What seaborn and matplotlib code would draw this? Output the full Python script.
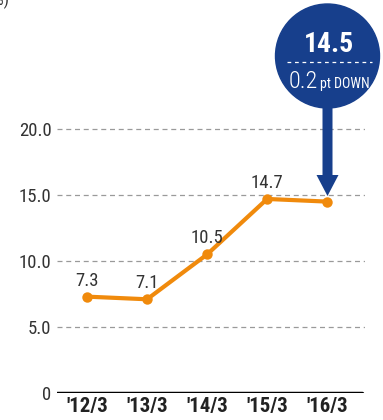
import matplotlib
matplotlib.use("Agg")
import matplotlib.pyplot as plt
import matplotlib.font_manager as fm
import seaborn as sns
import pandas as pd
from matplotlib.patches import Circle, FancyArrow

periods = ["'12/3", "'13/3", "'14/3", "'15/3", "'16/3"]
values = [7.3, 7.1, 10.5, 14.7, 14.5]
yticks = [0, 5, 10, 15, 20]
ytick_labels = ["0", "5.0", "10.0", "15.0", "20.0"]
callout_value = "14.5"
callout_change = "0.2"
callout_unit = "pt DOWN"

sns.set_theme(style="white")
_names = {f.name for f in fm.fontManager.ttflist}
narrow = None
for cand in ["Liberation Sans Narrow", "Roboto Condensed", "Open Sans Condensed"]:
    if cand in _names:
        narrow = cand
        break
fam = [narrow] if narrow else []
fam += ["Liberation Sans", "DejaVu Sans"]
plt.rcParams['font.family'] = fam
scale = 1.0 if narrow else 0.9

W, H = 383, 420
fig = plt.figure(figsize=(W / 100, H / 100), dpi=100)
ax = fig.add_axes([57 / W, (H - 393) / H, (365 - 57) / W, 393 / H])

df = pd.DataFrame({"period": periods, "value": values, "x": range(len(periods))})
orange = "#F08A0C"
sns.lineplot(data=df, x="x", y="value", ax=ax, color=orange, linewidth=3.0,
             marker="o", markersize=7.5, markeredgewidth=0, zorder=3)

ax.set_xlim(-0.5, 4.63)
ax.set_ylim(0, 393 / 13.2)

for yv in yticks[1:]:
    ax.axhline(yv, color="#9a9a9a", linestyle=(0, (4, 3)), linewidth=0.9, zorder=1)
ax.axhline(0, color="black", linewidth=2.5, zorder=2, xmax=(362 - 57) / (365 - 57))

ax.set_yticks(yticks)
ax.set_yticklabels(ytick_labels, fontsize=13.5 * scale, color="#333333")
ax.set_xticks(range(len(periods)))
ax.set_xticklabels(periods, fontsize=15 * scale, fontweight="bold", color="#222222")
ax.tick_params(axis="both", length=0, pad=3)
ax.tick_params(axis="y", pad=4)
ax.set_xlabel("")
ax.set_ylabel("")
for s in ax.spines.values():
    s.set_visible(False)

for i, v in enumerate(values[:-1]):
    ax.annotate(f"{v:.1f}", (i, v), xytext=(0, 5), textcoords="offset points",
                ha="center", va="bottom", fontsize=13.5 * scale, color="#333333")

navy = "#173F8C"
t = fig.dpi_scale_trans
cx, cy, r = 3.275, (H - 56) / 100, 0.52
fig.patches.append(Circle((cx, cy), r, transform=t, color=navy, zorder=5))
tip_y = (H - 196) / 100
start_y = cy - r + 0.03
fig.patches.append(FancyArrow(cx, start_y, 0, tip_y - start_y,
                              width=0.10, head_width=0.22, head_length=0.21,
                              length_includes_head=True, transform=t, color=navy,
                              linewidth=0, zorder=5))
fig.text(cx + 0.015, (H - 52) / 100, callout_value, transform=t, ha="center", va="baseline",
         fontsize=20 * (1.0 if narrow else 0.92), fontweight="bold", color="white", zorder=6)
fig.lines.append(plt.Line2D([2.87, 3.72], [(H - 62) / 100] * 2, transform=t, color="white",
                            linewidth=0.9, linestyle=(0, (3, 3)), zorder=6))
fig.text(2.885, (H - 88) / 100, callout_change, transform=t, ha="left", va="baseline",
         fontsize=17.5 * scale, fontweight="light", color="white", zorder=6)
fig.text(3.695, (H - 88) / 100, callout_unit, transform=t, ha="right", va="baseline",
         fontsize=10 * scale, color="white", zorder=6)

fig.text(-12 / W, 1 - 5 / H, "(%)", ha="left", va="baseline", fontsize=12, color="#333333")

fig.savefig("out.png", dpi=100)
